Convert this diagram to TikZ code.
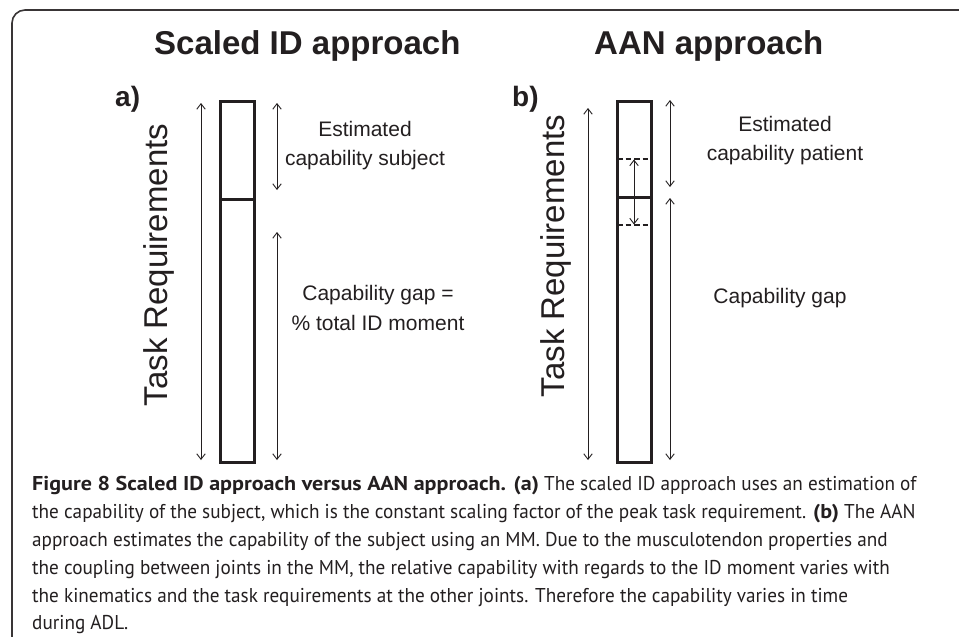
\documentclass[tikz,border=0pt]{standalone}
\usepackage{fontspec}
\usepackage{graphicx}
\setmainfont{Liberation Sans}
\newfontfamily\capfont{PT Sans}[FakeStretch=0.96]
\newcommand{\capbf}[1]{\scalebox{1.15}[1]{\textbf{#1}}}
\usetikzlibrary{arrows.meta}
\definecolor{ink}{HTML}{231F20}
\begin{document}
\begin{tikzpicture}[x=1pt,y=-1pt,
  barb/.tip={Straight Barb[length=5.5pt,width=8.5pt,line width=0.9pt]},
  dimarrow/.style={draw=ink, line width=0.9pt, barb-barb},
  barbox/.style={draw=ink, line width=3pt, minimum width=34pt, inner sep=0pt, outer sep=0pt},
  divider/.style={draw=ink, line width=3pt},
  dashline/.style={draw=ink, line width=1.5pt, dash pattern=on 5.5pt off 3pt},
  frameline/.style={draw=ink!90, line width=1.6pt, rounded corners=13pt},
  titletext/.style={text=ink, font=\fontsize{33}{38}\selectfont\bfseries, inner sep=0pt},
  paneltag/.style={text=ink, font=\fontsize{28}{32}\selectfont\bfseries, inner sep=0pt, anchor=base west},
  tasktext/.style={text=ink, font=\fontsize{33}{38}\selectfont, inner sep=0pt, rotate=90, anchor=base},
  labeltext/.style={text=ink, font=\fontsize{21}{25}\selectfont, inner sep=0pt, anchor=base},
  captext/.style={text=ink, font=\capfont\fontsize{20}{24}\selectfont, inner sep=0pt, anchor=base west}
]
\useasboundingbox (0,0) rectangle (959,637);
\fill[white] (0,0) rectangle (959,637);

% frame
\coordinate (fb) at (12,637);
\coordinate (fc) at (12,10);
\coordinate (fr) at (959,10);
\draw[frameline] (fb) -- (fc) -- (fr);

% titles
\node[titletext, anchor=base west] (t1) at (154,54) {Scaled ID approach};
\node[titletext, anchor=base west] (t2) at (594,54) {AAN approach};

% ---- panel a ----
\node[paneltag] (pa) at (115,106) {a)};
\node[tasktext] (taskA) at (167,265) {Task Requirements};
\node[barbox, minimum height=361pt] (barA) at (237,281.5) {};
\coordinate (dAl) at (barA.west |- 0,199);
\coordinate (dAr) at (barA.east |- 0,199);
\draw[divider] (dAl) -- (dAr);

\coordinate (aL1) at (201,103);
\coordinate (aL2) at (201,460);
\draw[dimarrow] (aL1) -- (aL2);
\coordinate (aU1) at (277,103);
\coordinate (aU2) at (277,190);
\draw[dimarrow] (aU1) -- (aU2);
\coordinate (aD1) at (277,232);
\coordinate (aD2) at (277,460);
\draw[dimarrow] (aD1) -- (aD2);

\node[labeltext] (la1) at (365,136) {Estimated};
\node[labeltext] (la2) at (365,165) {capability subject};
\node[labeltext] (la3) at (378,300) {Capability gap =};
\node[labeltext] (la4) at (378,330) {\% total ID moment};

% ---- panel b ----
\node[paneltag] (pb) at (512,106) {b)};
\node[tasktext] (taskB) at (564,256) {Task Requirements};
\node[barbox, minimum height=361pt] (barB) at (634,281.5) {};
\coordinate (dBl) at (barB.west |- 0,197);
\coordinate (dBr) at (barB.east |- 0,197);
\draw[divider] (dBl) -- (dBr);
\coordinate (s1l) at (barB.west |- 0,159);
\coordinate (s1r) at (barB.east |- 0,159);
\coordinate (s2l) at (barB.west |- 0,225);
\coordinate (s2r) at (barB.east |- 0,225);
\draw[dashline] (s1l) -- (s1r);
\draw[dashline] (s2l) -- (s2r);
\coordinate (m1) at (barB.center |- 0,159.5);
\coordinate (m2) at (barB.center |- 0,224.5);
\draw[dimarrow] (m1) -- (m2);

\coordinate (bL1) at (588,108);
\coordinate (bL2) at (588,460);
\draw[dimarrow] (bL1) -- (bL2);
\coordinate (bU1) at (670,100);
\coordinate (bU2) at (670,187);
\draw[dimarrow] (bU1) -- (bU2);
\coordinate (bD1) at (670,198);
\coordinate (bD2) at (670,460);
\draw[dimarrow] (bD1) -- (bD2);

\node[labeltext] (lb1) at (785,131) {Estimated};
\node[labeltext] (lb2) at (785,160) {capability patient};
\node[labeltext] (lb3) at (780,303) {Capability gap};

% caption
\node[captext] (c1) at (32,490) {\capbf{Figure 8 Scaled ID approach versus AAN approach. (a)} The scaled ID approach uses an estimation of};
\node[captext] (c2) at (32,518) {the capability of the subject, which is the constant scaling factor of the peak task requirement. \capbf{(b)} The AAN};
\node[captext] (c3) at (32,546) {approach estimates the capability of the subject using an MM. Due to the musculotendon properties and};
\node[captext] (c4) at (32,574) {the coupling between joints in the MM, the relative capability with regards to the ID moment varies with};
\node[captext] (c5) at (32,602) {the kinematics and the task requirements at the other joints. Therefore the capability varies in time};
\node[captext] (c6) at (32,629) {during ADL.};
\end{tikzpicture}
\end{document}
